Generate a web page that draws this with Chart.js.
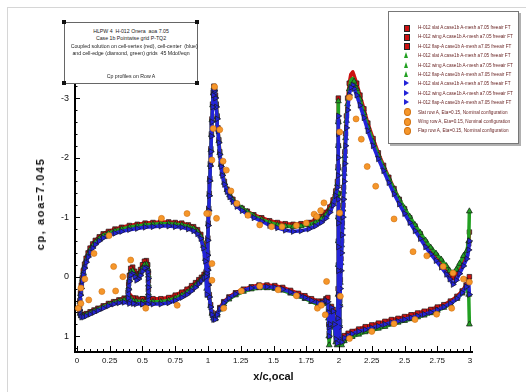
<!DOCTYPE html>
<html lang="en">
<head>
<meta charset="UTF-8">
<title>Cp profiles on Row A</title>
<script src="https://cdn.jsdelivr.net/npm/chart.js"></script>
<style>
  body { margin: 0; background: #fff; }
  #wrap { position: relative; width: 526px; height: 392px; overflow: hidden; }
  .frame { position: absolute; left: 7px; top: 7px; width: 600px; height: 600px;
           border-left: 1px solid #d6d6d6; border-top: 1px solid #d6d6d6; }
  canvas { position: absolute; left: 0; top: 0; }
  .tbox { position: absolute; left: 64px; top: 22px; width: 132px; height: 60px; border: 1px solid #666; background: #fff; }
  .tline { position: absolute; left: 64px; width: 134px; text-align: center; white-space: nowrap;
           font-family: "Liberation Sans Narrow", "Liberation Sans", sans-serif; font-size: 5.8px; line-height: 6px; color: #222;
           transform: scaleX(0.9); transform-origin: 50% 50%; }
  .handle { position: absolute; width: 4px; height: 4px; background: #111; }
  .lbox { position: absolute; left: 388px; top: 11px; width: 129px; height: 131px; border: 1px solid #777;
          box-shadow: 2px 2px 0 #b0b0b0; background: #fff; }
  .ltext { position: absolute; left: 418px; white-space: nowrap; font-family: "Liberation Sans Narrow", "Liberation Sans", sans-serif;
           font-size: 5.8px; line-height: 6px; color: #6a2525; transform: scaleX(0.8); transform-origin: 0 50%; }
  .mk { position: absolute; }
  .ytitle { position: absolute; left: 40px; top: 204px; white-space: nowrap; font-family: "Liberation Sans", sans-serif;
            font-weight: bold; font-size: 11px; line-height: 12px; letter-spacing: 1.6px; color: #111;
            transform: translate(-50%, -50%) rotate(-90deg); }
</style>
</head>
<body>
<div id="wrap">
  <div class="frame"></div>
  <canvas id="cpChart" width="526" height="392"></canvas>
  <div class="ytitle">cp, aoa=7.045</div>
  <div class="tbox"></div>
  <div class="handle" style="left:62px;top:20px"></div>
  <div class="handle" style="left:195px;top:20px"></div>
  <div class="handle" style="left:62px;top:81px"></div>
  <div class="handle" style="left:195px;top:81px"></div>
  <div class="tline" style="top:28px">HLPW 4&nbsp; H-012 Onera&nbsp; aoa 7.05</div>
  <div class="tline" style="top:35px">Case 1b Pointwise grid P-TQ2</div>
  <div class="tline" style="top:42.5px">Coupled solution on cell-vertex (red), cell-center&nbsp; (blue)</div>
  <div class="tline" style="top:49.5px">and cell-edge (diamond, green) grids&nbsp; 45 Mdof/eqn</div>
  <div class="tline" style="top:73px">Cp profiles on Row A</div>
  <div class="lbox"></div>
  <div id="legend"></div>
</div>

<script>
// axis ticks
const xTicks = [0, 0.25, 0.5, 0.75, 1, 1.25, 1.5, 1.75, 2, 2.25, 2.5, 2.75, 3];
const yTicks = [-3, -2, -1, 0, 1];

// slat, around the contour: TE upper -> LE -> lower -> cove -> TE
const slatX = [0.99, 0.98, 0.965, 0.945, 0.92, 0.89, 0.85, 0.80, 0.75, 0.70, 0.64, 0.58, 0.52, 0.46, 0.40, 0.34, 0.29, 0.24, 0.20, 0.17,
  0.14, 0.12, 0.10, 0.085, 0.07, 0.058, 0.048, 0.04, 0.033, 0.027, 0.022, 0.02, 0.024, 0.035, 0.05, 0.07, 0.10, 0.13, 0.16, 0.20,
  0.24, 0.28, 0.32, 0.36, 0.40, 0.45, 0.50, 0.54, 0.545, 0.545, 0.545, 0.54, 0.53, 0.515, 0.50, 0.485, 0.47, 0.455, 0.44, 0.425,
  0.41, 0.40, 0.395, 0.39, 0.43, 0.50, 0.58, 0.64, 0.70, 0.75, 0.80, 0.84, 0.875, 0.905, 0.93, 0.95, 0.97, 0.985, 0.99];
const slatRed = [-0.11, -0.33, -0.55, -0.71, -0.79, -0.84, -0.87, -0.90, -0.91, -0.92, -0.92, -0.91, -0.90, -0.88, -0.86, -0.83, -0.80, -0.76, -0.72, -0.67,
  -0.61, -0.55, -0.48, -0.40, -0.31, -0.21, -0.10, 0.02, 0.14, 0.27, 0.40, 0.52, 0.60, 0.64, 0.64, 0.62, 0.59, 0.56, 0.53, 0.49,
  0.45, 0.42, 0.39, 0.36, 0.36, 0.36, 0.37, 0.37, 0.22, 0.07, -0.07, -0.20, -0.27, -0.26, -0.20, -0.12, -0.05, -0.03, -0.09, -0.16,
  -0.14, -0.02, 0.12, 0.26, 0.36, 0.37, 0.37, 0.37, 0.35, 0.31, 0.26, 0.21, 0.15, 0.10, 0.05, 0.01, -0.04, -0.08, -0.02];
const slatGreen = [-0.08, -0.30, -0.52, -0.68, -0.76, -0.81, -0.84, -0.87, -0.88, -0.89, -0.89, -0.88, -0.87, -0.85, -0.83, -0.80, -0.77, -0.73, -0.69, -0.64,
  -0.58, -0.52, -0.45, -0.37, -0.28, -0.18, -0.07, 0.05, 0.17, 0.29, 0.42, 0.54, 0.62, 0.66, 0.66, 0.64, 0.61, 0.58, 0.55, 0.51,
  0.47, 0.44, 0.41, 0.39, 0.41, 0.41, 0.42, 0.42, 0.28, 0.13, -0.02, -0.14, -0.21, -0.20, -0.14, -0.07, 0.00, 0.02, -0.04, -0.10,
  -0.08, 0.04, 0.18, 0.31, 0.41, 0.42, 0.42, 0.42, 0.40, 0.36, 0.31, 0.26, 0.20, 0.14, 0.09, 0.04, -0.01, -0.04, 0.20];
const slatBlue = [-0.05, -0.26, -0.48, -0.64, -0.72, -0.77, -0.80, -0.83, -0.84, -0.85, -0.85, -0.84, -0.83, -0.81, -0.79, -0.76, -0.73, -0.69, -0.65, -0.60,
  -0.54, -0.48, -0.41, -0.33, -0.24, -0.14, -0.03, 0.08, 0.20, 0.31, 0.44, 0.56, 0.64, 0.68, 0.68, 0.66, 0.63, 0.60, 0.57, 0.53,
  0.49, 0.46, 0.44, 0.43, 0.45, 0.46, 0.46, 0.46, 0.33, 0.18, 0.03, -0.08, -0.15, -0.14, -0.09, -0.02, 0.04, 0.06, 0.00, -0.05,
  -0.03, 0.08, 0.22, 0.36, 0.45, 0.46, 0.46, 0.46, 0.44, 0.40, 0.35, 0.30, 0.24, 0.18, 0.12, 0.07, 0.02, 0.00, 0.30];

// wing: TE spike -> upper -> LE -> lower -> cove spikes
const wingX = [1.995, 1.995, 1.995, 1.993, 1.988, 1.975, 1.955, 1.93, 1.90, 1.865, 1.82, 1.77, 1.71, 1.65, 1.59, 1.53, 1.47, 1.41, 1.35, 1.30,
  1.26, 1.22, 1.19, 1.165, 1.145, 1.125, 1.11, 1.10, 1.09, 1.083, 1.076, 1.07, 1.063, 1.057, 1.05, 1.045, 1.04, 1.035, 1.03, 1.026,
  1.022, 1.018, 1.014, 1.01, 1.006, 1.002, 0.999, 0.997, 0.999, 1.003, 1.01, 1.02, 1.03, 1.042, 1.055, 1.07, 1.09, 1.12, 1.16, 1.21,
  1.27, 1.33, 1.39, 1.45, 1.51, 1.57, 1.63, 1.69, 1.74, 1.79, 1.84, 1.875, 1.90, 1.915, 1.92, 1.922, 1.925, 1.932, 1.942, 1.955,
  1.965, 1.975, 1.985, 1.99, 1.993, 1.995, 1.995, 1.995, 1.995];
const wingRed = [-3.0, -2.6, -2.2, -1.85, -1.6, -1.44, -1.29, -1.17, -1.08, -1.01, -0.95, -0.91, -0.89, -0.88, -0.89, -0.91, -0.94, -0.99, -1.04, -1.10,
  -1.15, -1.22, -1.30, -1.38, -1.47, -1.60, -1.75, -1.90, -2.10, -2.30, -2.50, -2.70, -2.90, -3.05, -3.17, -3.20, -3.10, -2.90, -2.65, -2.40,
  -2.15, -1.90, -1.65, -1.40, -1.15, -0.90, -0.65, -0.40, -0.15, 0.10, 0.30, 0.47, 0.60, 0.68, 0.69, 0.62, 0.52, 0.42, 0.34, 0.27,
  0.21, 0.17, 0.14, 0.14, 0.15, 0.18, 0.23, 0.28, 0.32, 0.37, 0.41, 0.41, 0.37, 0.35, 0.55, 0.80, 0.95, 0.75, 0.50, 0.55,
  0.75, 0.95, 1.00, 0.60, 0.20, -0.20, -0.60, -1.00, -1.40];
const wingGreen = [-2.95, -2.6, -2.2, -1.82, -1.56, -1.40, -1.25, -1.13, -1.04, -0.97, -0.91, -0.87, -0.85, -0.84, -0.85, -0.87, -0.91, -0.96, -1.02, -1.09,
  -1.15, -1.22, -1.29, -1.37, -1.46, -1.58, -1.73, -1.88, -2.08, -2.28, -2.48, -2.68, -2.88, -3.03, -3.15, -3.18, -3.08, -2.88, -2.63, -2.38,
  -2.13, -1.88, -1.63, -1.38, -1.13, -0.88, -0.63, -0.38, -0.13, 0.12, 0.32, 0.49, 0.62, 0.70, 0.71, 0.65, 0.55, 0.46, 0.38, 0.31,
  0.25, 0.21, 0.19, 0.19, 0.20, 0.23, 0.28, 0.33, 0.37, 0.42, 0.47, 0.46, 0.42, 0.45, 0.70, 1.00, 1.15, 0.85, 0.55, 0.60,
  0.85, 1.10, 1.15, 0.70, 0.30, -0.20, -0.60, -1.00, -1.40];
const wingBlue = [-2.7, -2.4, -2.0, -1.70, -1.50, -1.36, -1.20, -1.08, -0.98, -0.91, -0.85, -0.80, -0.77, -0.76, -0.78, -0.82, -0.86, -0.93, -0.99, -1.05,
  -1.11, -1.18, -1.26, -1.34, -1.43, -1.55, -1.70, -1.85, -2.05, -2.25, -2.45, -2.65, -2.85, -3.00, -3.12, -3.15, -3.05, -2.85, -2.60, -2.36,
  -2.10, -1.86, -1.61, -1.36, -1.11, -0.86, -0.61, -0.36, -0.11, 0.14, 0.34, 0.51, 0.64, 0.72, 0.72, 0.64, 0.54, 0.44, 0.36, 0.29,
  0.23, 0.19, 0.17, 0.17, 0.18, 0.21, 0.26, 0.31, 0.35, 0.40, 0.44, 0.44, 0.40, 0.42, 0.60, 0.85, 1.00, 0.80, 0.52, 0.58,
  0.80, 1.05, 1.12, 0.70, 0.30, -0.10, -0.50, -0.90, -1.30];

// flap: TE upper -> peak -> LE -> lower -> TE
const flapX = [2.995, 2.99, 2.975, 2.95, 2.92, 2.895, 2.87, 2.845, 2.82, 2.78, 2.74, 2.70, 2.66, 2.62, 2.58, 2.54, 2.50, 2.46, 2.42, 2.38,
  2.34, 2.30, 2.26, 2.22, 2.19, 2.16, 2.135, 2.115, 2.105, 2.09, 2.078, 2.066, 2.057, 2.05, 2.045, 2.04, 2.035, 2.03, 2.025, 2.02,
  2.015, 2.01, 2.006, 2.004, 2.006, 2.02, 2.04, 2.07, 2.10, 2.15, 2.20, 2.25, 2.30, 2.35, 2.40, 2.45, 2.50, 2.55, 2.60, 2.65,
  2.70, 2.75, 2.80, 2.85, 2.90, 2.94, 2.97, 2.99, 2.995];
const flapRed = [-0.75, -0.55, -0.38, -0.27, -0.15, -0.05, 0.02, -0.05, -0.14, -0.26, -0.36, -0.46, -0.58, -0.72, -0.85, -0.99, -1.14, -1.30, -1.48, -1.67,
  -1.87, -2.08, -2.32, -2.58, -2.82, -3.05, -3.25, -3.38, -3.44, -3.40, -3.25, -3.00, -2.70, -2.40, -2.10, -1.80, -1.50, -1.20, -0.90, -0.60,
  -0.30, 0.05, 0.40, 0.75, 1.00, 1.05, 0.99, 0.95, 0.92, 0.88, 0.84, 0.81, 0.78, 0.75, 0.72, 0.70, 0.67, 0.64, 0.61, 0.58,
  0.55, 0.51, 0.47, 0.41, 0.33, 0.24, 0.14, 0.05, 0.00];
const flapGreen = [-1.10, -0.60, -0.43, -0.35, -0.22, -0.12, -0.06, -0.10, -0.18, -0.29, -0.39, -0.49, -0.61, -0.74, -0.87, -1.01, -1.15, -1.30, -1.47, -1.65,
  -1.84, -2.04, -2.27, -2.52, -2.75, -2.98, -3.16, -3.28, -3.33, -3.30, -3.15, -2.90, -2.62, -2.33, -2.03, -1.73, -1.43, -1.13, -0.83, -0.53,
  -0.23, 0.10, 0.45, 0.80, 1.10, 1.15, 1.08, 1.04, 1.01, 0.97, 0.93, 0.90, 0.87, 0.84, 0.80, 0.77, 0.74, 0.71, 0.68, 0.65,
  0.61, 0.57, 0.52, 0.46, 0.37, 0.28, 0.18, 0.30, 0.80];
const flapBlue = [-0.60, -0.45, -0.30, -0.18, -0.05, 0.06, 0.13, 0.04, -0.04, -0.16, -0.27, -0.38, -0.50, -0.64, -0.77, -0.91, -1.06, -1.22, -1.39, -1.58,
  -1.78, -1.98, -2.20, -2.45, -2.67, -2.88, -3.05, -3.16, -3.22, -3.18, -3.05, -2.80, -2.50, -2.20, -1.90, -1.60, -1.30, -1.00, -0.70, -0.40,
  -0.10, 0.20, 0.50, 0.85, 1.05, 1.10, 1.03, 0.99, 0.96, 0.92, 0.89, 0.86, 0.83, 0.80, 0.77, 0.75, 0.72, 0.69, 0.66, 0.63,
  0.60, 0.56, 0.51, 0.45, 0.37, 0.27, 0.17, 0.08, 0.30];

// experiment, row A
const slatExpX = [0.01, 0.03, 0.03, 0.06, 0.09, 0.13, 0.19, 0.245, 0.28, 0.295, 0.35, 0.41, 0.525, 0.645, 0.765, 0.84, 0.99];
const slatExpCp = [0.53, 0.45, 0.19, 0.04, 0.39, -0.39, 0.25, -0.69, -0.17, 0.24, 0.0, -0.28, 0.53, -0.98, 0.48, -1.06, -1.06];
const wingExpX = [1.005, 1.03, 1.03, 1.03, 1.04, 1.05, 1.065, 1.09, 1.115, 1.14, 1.175, 1.22, 1.305, 1.395, 1.485, 1.565, 1.675, 1.75, 1.81, 1.83,
  1.86, 1.885, 1.12, 1.255, 1.395, 1.535, 1.675, 1.835, 1.865, 1.895, 1.905];
const wingExpCp = [-1.06, -0.22, 0.06, -1.96, -2.49, -3.19, -0.98, -2.47, -1.94, -1.79, -1.44, -1.23, -1.03, -0.87, -0.84, -0.84, -0.86, -0.90, -1.05, -1.01,
  -1.11, -1.24, 0.53, 0.24, 0.16, 0.22, 0.32, 0.53, 0.48, 0.64, 0.08];
const flapExpX = [2.005, 2.005, 2.01, 2.035, 2.08, 2.13, 2.17, 2.215, 2.28, 2.42, 2.565, 2.67, 2.795, 2.87, 2.95, 2.995, 2.08, 2.25, 2.42, 2.58, 2.745, 2.86];
const flapExpCp = [-2.43, -1.07, 0.33, -3.32, -3.01, -2.65, -2.31, -1.85, -1.52, -0.97, -0.42, -0.35, -0.17, -0.06, 0.04, 0.09, 1.04, 0.92, 0.79, 0.72, 0.63, 0.53];

const labels = [
  'H-012 slat A case1b A-mesh a7.05 freeair FT',
  'H-012 wing A case1b A-mesh a7.05 freeair FT',
  'H-012 flap-A case1b A-mesh a7.05 freeair FT',
  'Slat row A, Eta=0.15, Nominal configuration',
  'Wing row A, Eta=0.15, Nominal configuration',
  'Flap row A, Eta=0.15, Nominal configuration'
];

const RED = '#cc1111', GREEN = '#22a022', BLUE = '#2323d8', ORANGE = '#f5962a';

function pts(xs, ys) {
  return xs.map((x, i) => ({ x: x, y: ys[i] }));
}

function cfd(label, xs, ys, color, style, rot, order) {
  return {
    label: label, data: pts(xs, ys), order: order,
    showLine: true, borderColor: color, borderWidth: 3.5, borderJoinStyle: 'round', borderCapStyle: 'round',
    pointStyle: style, pointRotation: rot, pointRadius: style === 'rect' ? 3.2 : 3.4,
    pointBackgroundColor: color, pointBorderColor: '#1a1a1a', pointBorderWidth: 0.7,
    clip: false
  };
}

function exp(label, xs, ys) {
  return {
    label: label, data: pts(xs, ys), order: 1, showLine: false,
    pointStyle: 'circle', pointRadius: 3, pointBackgroundColor: ORANGE, pointBorderColor: '#d07010', pointBorderWidth: 0.6,
    clip: false
  };
}

const datasets = [
  cfd(labels[0], slatX, slatRed, RED, 'rect', 0, 4),
  cfd(labels[1], wingX, wingRed, RED, 'rect', 0, 4),
  cfd(labels[2], flapX, flapRed, RED, 'rect', 0, 4),
  cfd(labels[0], slatX, slatGreen, GREEN, 'triangle', 0, 3),
  cfd(labels[1], wingX, wingGreen, GREEN, 'triangle', 0, 3),
  cfd(labels[2], flapX, flapGreen, GREEN, 'triangle', 0, 3),
  cfd(labels[0], slatX, slatBlue, BLUE, 'triangle', 90, 2),
  cfd(labels[1], wingX, wingBlue, BLUE, 'triangle', 90, 2),
  cfd(labels[2], flapX, flapBlue, BLUE, 'triangle', 90, 2),
  exp(labels[3], slatExpX, slatExpCp),
  exp(labels[4], wingExpX, wingExpCp),
  exp(labels[5], flapExpX, flapExpCp)
];

// ticks pointing into the plot, like the original
const innerTicks = {
  id: 'innerTicks',
  afterDraw(chart) {
    const { ctx, chartArea: a, scales: { x, y } } = chart;
    ctx.save();
    ctx.strokeStyle = '#000';
    ctx.lineWidth = 1;
    ctx.beginPath();
    for (let i = 0; i <= 60; i++) {
      const px = Math.round(x.getPixelForValue(i * 0.05)) + 0.5;
      const len = i % 5 === 0 ? 6 : 3;
      ctx.moveTo(px, a.bottom);
      ctx.lineTo(px, a.bottom - len);
    }
    for (let i = -16; i <= 6; i++) {
      const py = Math.round(y.getPixelForValue(i * 0.2)) + 0.5;
      const len = i % 5 === 0 ? 5 : 2.5;
      ctx.moveTo(a.left, py);
      ctx.lineTo(a.left + len, py);
    }
    ctx.stroke();
    ctx.restore();
  }
};

const ctx = document.getElementById('cpChart').getContext('2d');
const cpChart = new Chart(ctx, {
  type: 'scatter',
  data: { datasets: datasets },
  options: {
    responsive: false,
    animation: false,
    devicePixelRatio: 1,
    layout: { padding: { left: 0, top: 85, right: 54, bottom: 0 } },
    plugins: { legend: { display: false }, tooltip: { enabled: false } },
    scales: {
      x: {
        type: 'linear', min: -0.015, max: 3.015,
        afterBuildTicks: s => { s.ticks = xTicks.map(v => ({ value: v })); },
        afterFit: s => { s.height = 40; },
        grid: { display: false, drawTicks: false },
        border: { display: true, color: '#000', width: 2 },
        ticks: { padding: 4, color: '#111', maxRotation: 0, autoSkip: false,
                 font: { family: '"Liberation Sans Narrow", "Liberation Sans", sans-serif', size: 8 },
                 callback: v => String(v) },
        title: { display: true, text: 'x/c,ocal', color: '#111', padding: { top: 0, bottom: 8 },
                 font: { family: '"Liberation Sans Narrow", "Liberation Sans", sans-serif', size: 11, weight: 'bold' } }
      },
      y: {
        type: 'linear', reverse: true, min: -3.22, max: 1.265,
        afterBuildTicks: s => { s.ticks = yTicks.map(v => ({ value: v })); },
        afterFit: s => { s.width = 75; },
        grid: { display: false, drawTicks: false },
        border: { display: true, color: '#000', width: 2 },
        ticks: { padding: 6, color: '#111',
                 font: { family: '"Liberation Sans Narrow", "Liberation Sans", sans-serif', size: 9 },
                 callback: v => String(v) },
        title: { display: false }
      }
    }
  },
  plugins: [innerTicks]
});

// legend box, built from the datasets
const legend = document.getElementById('legend');
cpChart.data.datasets.forEach((ds, i) => {
  const cy = 27 + i * 9.4;
  const mk = document.createElement('div');
  mk.className = 'mk';
  if (ds.pointStyle === 'rect') {
    mk.style.cssText = `left:404px;top:${cy - 2.5}px;width:4px;height:5px;background:${RED};border:0.5px solid #222;`;
  } else if (ds.pointStyle === 'circle') {
    mk.style.cssText = `left:403.5px;top:${cy - 3.5}px;width:5px;height:6px;border-radius:50%;background:${ORANGE};border:0.5px solid #d07010;`;
  } else if (ds.pointRotation === 90) {
    mk.style.cssText = `left:404px;top:${cy - 3}px;width:0;height:0;border-top:3px solid transparent;border-bottom:3px solid transparent;border-left:5px solid ${BLUE};`;
  } else {
    mk.style.cssText = `left:403.5px;top:${cy - 3}px;width:0;height:0;border-left:2.5px solid transparent;border-right:2.5px solid transparent;border-bottom:6px solid ${GREEN};`;
  }
  legend.appendChild(mk);
  const t = document.createElement('div');
  t.className = 'ltext';
  t.style.top = (cy - 3) + 'px';
  t.textContent = ds.label;
  legend.appendChild(t);
});
</script>
</body>
</html>
